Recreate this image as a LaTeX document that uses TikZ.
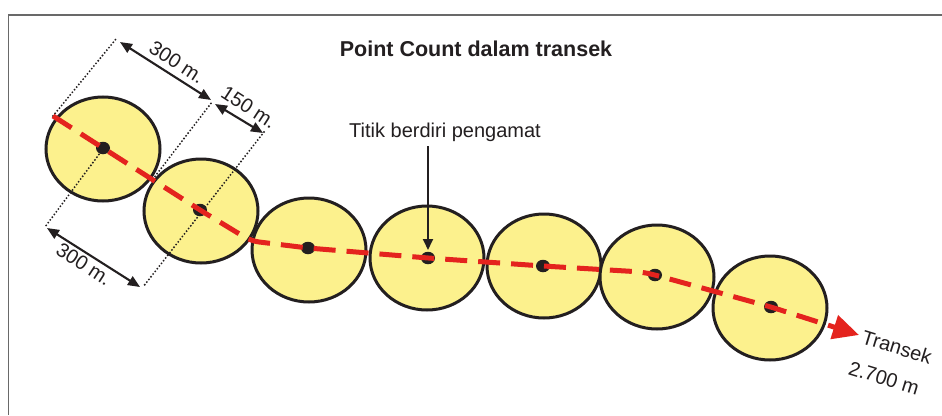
\documentclass[tikz,border=0pt]{standalone}
\usepackage{fontspec}
\setmainfont{Liberation Sans}
\usetikzlibrary{arrows.meta,shapes.geometric}
\definecolor{tred}{RGB}{228,35,30}
\definecolor{cyel}{RGB}{252,241,141}
\definecolor{ink}{RGB}{35,31,32}
\definecolor{framec}{RGB}{105,105,105}
\begin{document}
\begin{tikzpicture}[x=1pt,y=-1pt,
  zone/.style={ellipse, draw=ink, line width=3pt, fill=cyel, minimum width=114pt, minimum height=104pt, inner sep=0pt},
  obs/.style={ellipse, fill=ink, minimum width=14pt, minimum height=12.5pt, inner sep=0pt},
  ext/.style={ink, line width=2.1pt, dash pattern=on 0pt off 3.4pt, line cap=round},
  dim/.style={ink, line width=2.1pt, {Triangle[length=12pt,width=10pt]}-{Triangle[length=12pt,width=10pt]}},
  lbl/.style={text=ink, font=\fontsize{20}{24}\selectfont, inner sep=0pt},
  transect/.style={tred, line width=5pt, dash pattern=on 22pt off 11pt}
]
\useasboundingbox (0,0) rectangle (942,415);
\fill[white] (0,0) rectangle (942,415);
\draw[framec, line width=1.5pt] (8.5,415) -- (8.5,15) -- (942,15);

% title
\node[text=ink, font=\bfseries\fontsize{21.5}{26}\selectfont, inner sep=0pt] (title) at (476,49) {Point Count dalam transek};

% zones
\node[zone] (z1) at (103,149) {};
\node[zone] (z2) at (201,211) {};
\node[zone] (z3) at (309,250) {};
\node[zone] (z4) at (427,258) {};
\node[zone] (z5) at (544,266) {};
\node[zone] (z6) at (657,277) {};
\node[zone] (z7) at (770,308) {};

% extension lines
\coordinate (s) at (53,116);
\coordinate (a1t) at (116,39);
\coordinate (a2b) at (45,227);
\coordinate (tg) at (153,179);
\coordinate (b1t) at (212,102);
\coordinate (ct) at (264,132);
\coordinate (cb) at (143,287);
\draw[ext] (s) -- (a1t);
\draw[ext] (z1.center) -- (a2b);
\draw[ext] (tg) -- (b1t);
\draw[ext] (ct) -- (cb);

% observer points
\node[obs] (d1) at (103,148) {};
\node[obs] (d2) at (200,210) {};
\node[obs] (d3) at (308,248) {};
\node[obs] (d4) at (428,258) {};
\node[obs] (d5) at (543,266) {};
\node[obs] (d6) at (655,275) {};
\node[obs] (d7) at (771,307) {};

% transect
\coordinate (k1) at (251,241);
\coordinate (k2) at (642,272);
\coordinate (tip) at (859,335);
\draw[transect, rounded corners=8pt, -{Triangle[length=26pt,width=24pt]}] (s) -- (d1.center) -- (d2.center) -- (k1) -- (d3.center) -- (d4.center) -- (d5.center) -- (k2) -- (d6.center) -- (d7.center) -- (tip);

% dimension arrows
\coordinate (m1a) at (120,42);
\coordinate (m1b) at (211,100);
\coordinate (m2a) at (215,104);
\coordinate (m2b) at (263,133);
\coordinate (m3a) at (47,228);
\coordinate (m3b) at (140,287);
\draw[dim] (m1a) -- (m1b);
\draw[dim] (m2a) -- (m2b);
\draw[dim] (m3a) -- (m3b);
\node[lbl, rotate=-33] (l1) at (177,62) {300 m.};
\node[lbl, rotate=-33] (l2) at (249,107) {150 m.};
\node[lbl, rotate=-33] (l3) at (84,264) {300 m.};

% observer label
\node[lbl] (obsl) at (445,132) {Titik berdiri pengamat};
\coordinate (ta) at (428,146);
\coordinate (tb) at (428,250);
\draw[ink, line width=1.8pt, -{Triangle[length=11pt,width=10pt]}] (ta) -- (tb);

% transect label
\node[lbl, rotate=-17] (tr) at (897,347) {Transek};
\node[lbl, rotate=-17] (len) at (884,378) {2.700 m};
\end{tikzpicture}
\end{document}
